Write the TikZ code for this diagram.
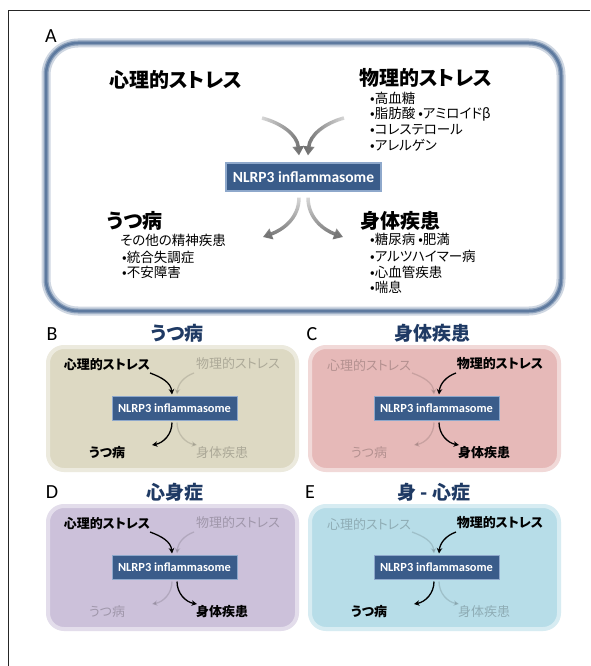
\documentclass[tikz,border=0pt]{standalone}
\usepackage{fontspec}
\usetikzlibrary{arrows.meta,fadings}
\newfontfamily\jp[RawFeature=+palt]{Noto Sans CJK JP}
\newfontfamily\calib{Carlito}
\definecolor{nlblue}{HTML}{3A5C8A}
\definecolor{nlborder}{HTML}{8EA8CB}
\definecolor{titleblue}{HTML}{1F3A64}
\definecolor{tanbg}{HTML}{DDD9C3}
\definecolor{pinkbg}{HTML}{E6B9B8}
\definecolor{lavbg}{HTML}{CCC1DA}
\definecolor{aquabg}{HTML}{B7DDE8}
\definecolor{frameA}{HTML}{5E7A9F}
\tikzfading[name=fromwest, left color=transparent!75, right color=transparent!0]
\tikzfading[name=fromeast, left color=transparent!0, right color=transparent!75]
\tikzfading[name=fromnorth, top color=transparent!75, bottom color=transparent!0]
\newcommand{\minipanel}[7]{%
  \begin{scope}[shift={#2}]
    \draw[line width=4pt, draw=#3!55!white, fill=#3, rounded corners=16pt] (48,347) rectangle (297,470);
    \node[#4] (#1psy) at (107,365) {心理的ストレス};
    \node[#5] (#1phys) at (238,364) {物理的ストレス};
    \node[nlsmall] (#1nl) at (174.5,408) {NLRP3 inflammasome};
    \node[#6] (#1dep) at (107,453) {うつ病};
    \node[#7] (#1som) at (222,453) {身体疾患};
    \coordinate (#1a) at (150,373);
    \coordinate (#1b) at (194,373);
    \coordinate (#1c) at (152,445);
    \coordinate (#1d) at (197,445);
    \draw[#4arrow] (#1a) to[out=-20,in=95] ([xshift=-2.5pt,yshift=1pt]#1nl.north);
    \draw[#5arrow] (#1b) to[out=200,in=85] ([xshift=2.5pt,yshift=1pt]#1nl.north);
    \draw[#6arrow] ([xshift=-2.5pt,yshift=-2pt]#1nl.south) to[out=-90,in=10] (#1c);
    \draw[#7arrow] ([xshift=2.5pt,yshift=-2pt]#1nl.south) to[out=-90,in=170] (#1d);
  \end{scope}}
\begin{document}
\begin{tikzpicture}[x=1pt,y=-1pt,
  big/.style={font=\jp\bfseries\fontsize{20}{22}\selectfont, inner sep=0pt, anchor=west},
  item/.style={font=\jp\fontsize{13.5}{15}\selectfont, inner sep=0pt, anchor=west},
  nlbig/.style={draw=nlborder, line width=1.2pt, fill=nlblue, text=white,
    font=\calib\bfseries\fontsize{15.5}{17}\selectfont, minimum width=155pt, minimum height=28pt, inner sep=0pt},
  nlsmall/.style={draw=nlborder, line width=1pt, fill=nlblue, text=white,
    font=\calib\bfseries\fontsize{12.4}{14}\selectfont, minimum width=125pt, minimum height=24pt, inner sep=0pt},
  lit/.style={font=\jp\bfseries\fontsize{13}{14}\selectfont, text=black, inner sep=0pt},
  dim/.style={font=\jp\fontsize{13}{14}\selectfont, text=black, text opacity=0.22, inner sep=0pt},
  litarrow/.style={draw=black, line width=1.3pt, -{Stealth[length=5.5pt,width=5.5pt]}},
  dimarrow/.style={draw=black, opacity=0.13, line width=1.3pt, -{Stealth[length=5.5pt,width=5.5pt]}},
  bigarrow/.style={draw=black!55, line width=3.5pt, -{Triangle[length=9pt,width=11pt]}},
  paneltitle/.style={font=\jp\bfseries\fontsize{19}{20}\selectfont, text=titleblue, inner sep=0pt},
  letter/.style={font=\calib\fontsize{20}{22}\selectfont, inner sep=0pt}
]
\useasboundingbox (0,0) rectangle (590,666);
\fill[white] (0,0) rectangle (590,666);
% outer frame
\draw[line width=0.8pt, black!85] (8,666) -- (8,10) -- (590,10);
% panel A
\draw[line width=9pt, draw=frameA!30!white, rounded corners=32pt] (46,43) rectangle (561,311);
\draw[line width=5pt, draw=frameA!70!white, rounded corners=32pt] (46,43) rectangle (561,311);
\draw[line width=2.5pt, draw=frameA, rounded corners=32pt] (46,43) rectangle (561,311);
\node[letter] (lA) at (51,36) {A};
\node[big] (apsy) at (109,80) {心理的ストレス};
\node[big] (aphys) at (359,78) {物理的ストレス};
\node[item] (ai1) at (370,98) {•高血糖};
\node[item] (ai2) at (370,114) {•脂肪酸 •アミロイドβ};
\node[item] (ai3) at (370,130) {•コレステロール};
\node[item] (ai4) at (370,145) {•アレルゲン};
\node[nlbig] (anl) at (303.5,177) {NLRP3 inflammasome};
\node[big] (adep) at (107,221) {うつ病};
\node[item] (ad1) at (120,240) {その他の精神疾患};
\node[item] (ad2) at (122,257) {•統合失調症};
\node[item] (ad3) at (122,272) {•不安障害};
\node[big] (asom) at (360,221) {身体疾患};
\node[item] (as1) at (370,239) {•糖尿病 •肥満};
\node[item] (as2) at (370,256) {•アルツハイマー病};
\node[item] (as3) at (370,272) {•心血管疾患};
\node[item] (as4) at (370,287) {•喘息};
\coordinate (aa) at (262,118);
\coordinate (ab) at (344,118);
\coordinate (ac) at (263,237);
\coordinate (ad) at (343,237);
\draw[bigarrow, path fading=fromwest, fit fading=true] (aa) to[out=-15,in=95] ([xshift=-4.5pt,yshift=7pt]anl.north);
\draw[bigarrow, path fading=fromeast, fit fading=true] (ab) to[out=195,in=85] ([xshift=4.5pt,yshift=7pt]anl.north);
\draw[bigarrow, path fading=fromnorth, fit fading=true] ([xshift=-4.5pt,yshift=-6pt]anl.south) to[out=-90,in=20] (ac);
\draw[bigarrow, path fading=fromnorth, fit fading=true] ([xshift=4.5pt,yshift=-6pt]anl.south) to[out=-90,in=160] (ad);
% panels B-E
\node[letter] (lB) at (52,334) {B};
\node[paneltitle] (tB) at (177,333) {うつ病};
\minipanel{b}{(0,0)}{tanbg}{lit}{dim}{lit}{dim}
\node[letter] (lC) at (312,334) {C};
\node[paneltitle] (tC) at (432,333) {身体疾患};
\minipanel{c}{(262,0)}{pinkbg}{dim}{lit}{dim}{lit}
\node[letter] (lD) at (52,492) {D};
\node[paneltitle] (tD) at (175,492) {心身症};
\minipanel{d}{(0,159)}{lavbg}{lit}{dim}{dim}{lit}
\node[letter] (lE) at (310,492) {E};
\node[paneltitle] (tE) at (434,492) {身 - 心症};
\minipanel{e}{(262,159)}{aquabg}{dim}{lit}{lit}{dim}
\end{tikzpicture}
\end{document}
